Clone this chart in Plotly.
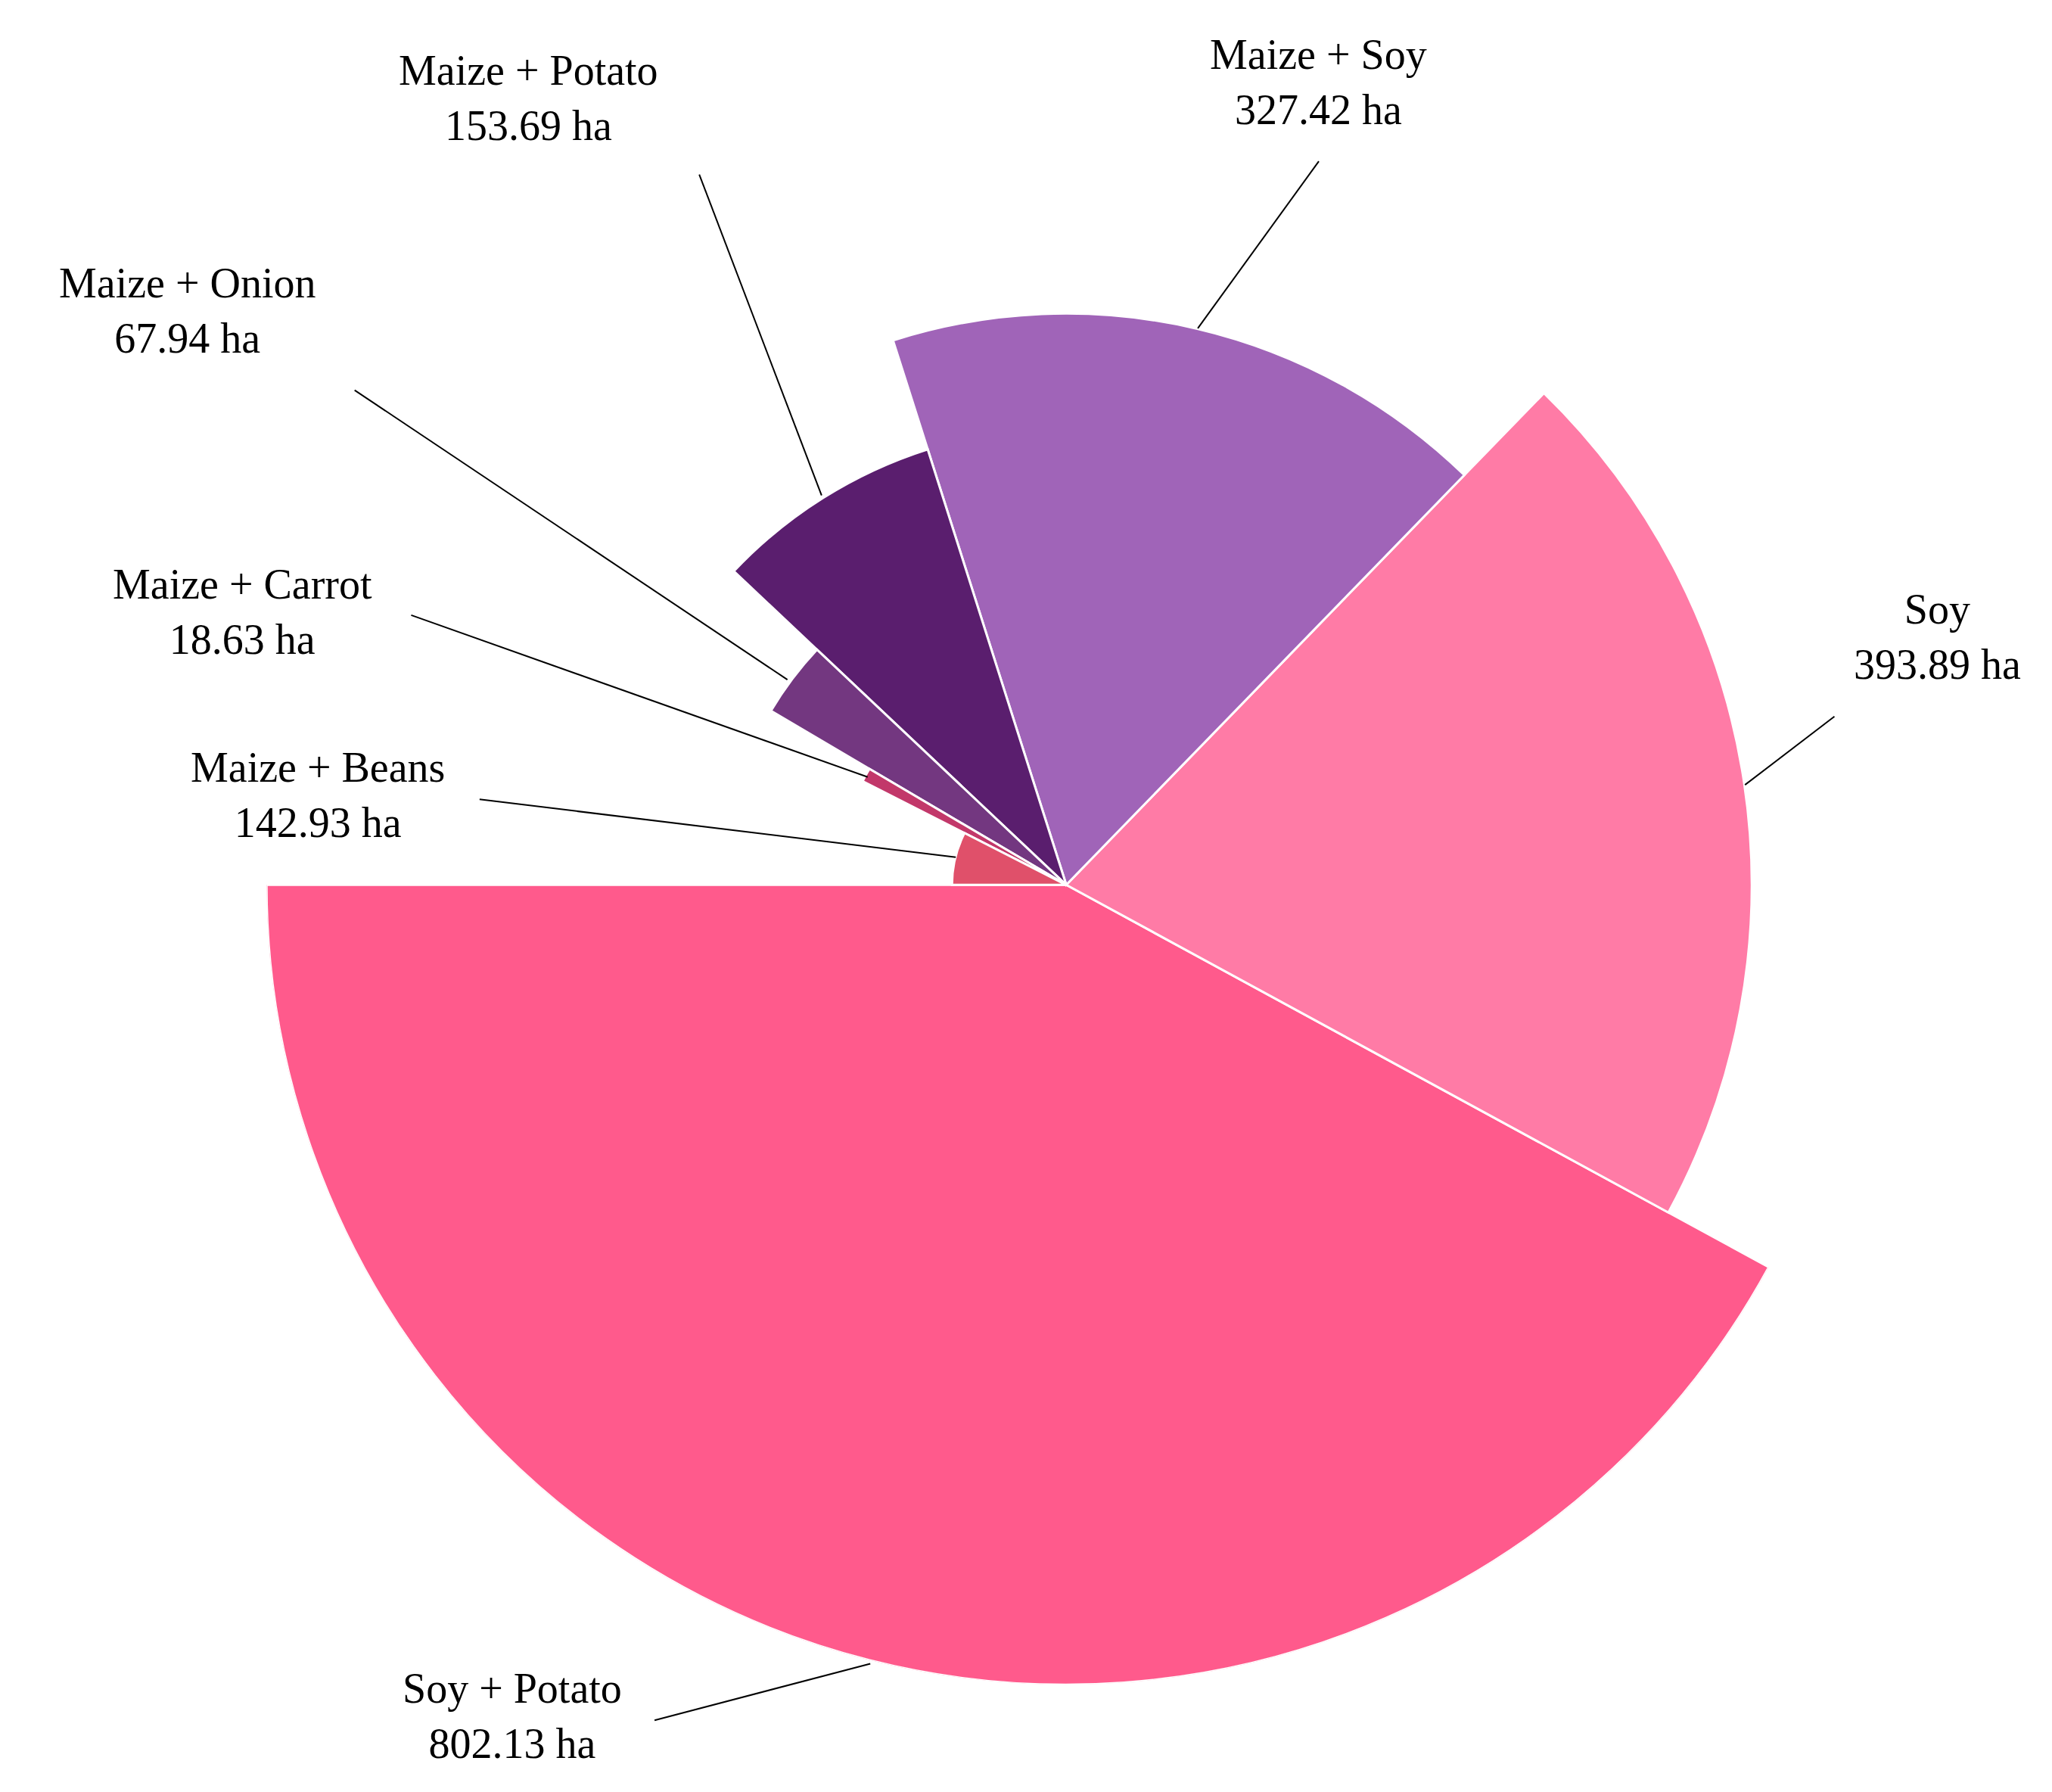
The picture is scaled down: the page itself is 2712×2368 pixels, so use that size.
import numpy as np
import plotly.graph_objects as go

W, H = 2712, 2368
S = W / 1560.0

crops = ["Soy + Potato", "Soy", "Maize + Soy", "Maize + Potato",
         "Maize + Onion", "Maize + Carrot", "Maize + Beans"]
area_ha = [802.13, 393.89, 327.42, 153.69, 67.94, 18.63, 142.93]
radius_rank = [7, 6, 5, 4, 3, 2, 1]
colors = ["#FF5A8C", "#FF7BA6", "#A064B8", "#5A1E6E",
          "#733780", "#C2386A", "#E0506A"]

# label placement in reference pixel coords (before scaling): text centre, line start, line end
label_pos = {
    "Maize + Soy": ((998, 35), (998, 118), (906, 245)),
    "Maize + Potato": ((397, 47), (527, 128), (620, 372)),
    "Maize + Onion": ((138, 209), (265, 292), (594, 512)),
    "Maize + Carrot": ((180, 438), (308, 463), (655, 586)),
    "Maize + Beans": ((237, 577), (360, 603), (722, 647)),
    "Soy": ((1468, 457), (1390, 540), (1322, 592)),
    "Soy + Potato": ((385, 1277), (493, 1303), (657, 1260)),
}

vals = np.array(area_ha)
widths = vals / vals.sum() * 360
starts = 180 + np.concatenate([[0], np.cumsum(widths)[:-1]])
mids = starts + widths / 2


def px(x, y):
    return x * S / W, 1 - y * S / H


fig = go.Figure(go.Barpolar(
    r=radius_rank, theta=mids, width=widths,
    marker=dict(color=colors, line=dict(color="white", width=3)),
    hoverinfo="skip"))

cx, cy, rad = 806 * S, 668 * S, 608 * S
font = dict(family="Liberation Serif, serif", size=56, color="black")
for name, v in zip(crops, area_ha):
    (tx, ty), (lx0, ly0), (lx1, ly1) = label_pos[name]
    x, y = px(tx, ty)
    fig.add_annotation(x=x, y=y, xref="paper", yref="paper",
                       text=f"{name}<br>{v:.2f} ha", showarrow=False,
                       yanchor="top", font=font, align="center",
                       xanchor="center", yshift=30)
    a, b = px(lx0, ly0)
    c, d = px(lx1, ly1)
    fig.add_shape(type="line", xref="paper", yref="paper", x0=a, y0=b, x1=c, y1=d,
                  line=dict(color="black", width=2))

fig.update_layout(
    width=W, height=H, margin=dict(l=0, r=0, t=0, b=0),
    paper_bgcolor="white", showlegend=False,
    polar=dict(
        domain=dict(x=[(cx - rad) / W, (cx + rad) / W],
                    y=[1 - (cy + rad) / H, 1 - (cy - rad) / H]),
        bgcolor="white", bargap=0,
        radialaxis=dict(visible=False, range=[0, 7]),
        angularaxis=dict(visible=False, rotation=0, direction="counterclockwise"),
    ),
)
fig.write_html("out.html")
